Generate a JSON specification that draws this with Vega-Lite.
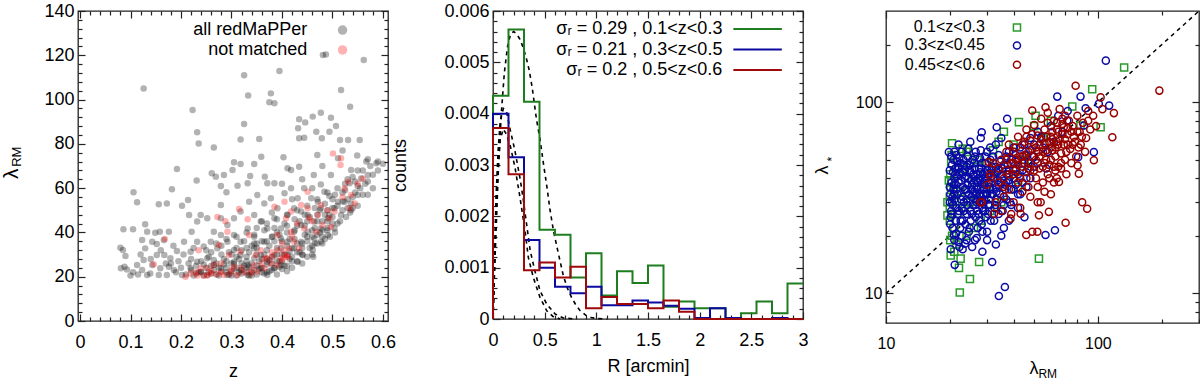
{
"$schema":"https://vega.github.io/schema/vega-lite/v6.json",
"padding":{"left":0,"top":1,"right":0,"bottom":0},
"config":{"font":"Liberation Sans","view":{"stroke":"#222222","strokeWidth":1.3},
"axis":{"domain":false,"grid":false,"labelFontSize":18,"titleFontSize":18,"labelColor":"black","titleColor":"black","titleFontWeight":"normal","tickColor":"#222222","tickWidth":1.2,"labelFlush":false,"labelOverlap":false}},
"resolve":{"scale":{"color":"independent","shape":"independent"}},
"datasets":{
"p1":[
{"z":0.126,"l":105,"g":"a"},{"z":0.223,"l":95.3,"g":"a"},{"z":0.232,"l":85.2,"g":"a"},{"z":0.235,"l":80.2,"g":"a"},{"z":0.265,"l":78.4,"g":"a"},{"z":0.261,"l":66.7,"g":"a"},{"z":0.192,"l":68.6,"g":"a"},{"z":0.182,"l":59.5,"g":"a"},{"z":0.106,"l":58.1,"g":"a"},{"z":0.113,"l":53.6,"g":"a"},{"z":0.156,"l":52.7,"g":"a"},{"z":0.172,"l":53.1,"g":"a"},{"z":0.202,"l":52.1,"g":"a"},{"z":0.214,"l":54.6,"g":"a"},{"z":0.231,"l":63.4,"g":"a"},{"z":0.279,"l":52.4,"g":"a"},{"z":0.325,"l":111,"g":"a"},{"z":0.333,"l":101.8,"g":"a"},{"z":0.325,"l":89,"g":"a"},{"z":0.318,"l":82,"g":"a"},{"z":0.355,"l":82.2,"g":"a"},{"z":0.378,"l":102.8,"g":"a"},{"z":0.375,"l":98.8,"g":"a"},{"z":0.385,"l":98.3,"g":"a"},{"z":0.395,"l":112.9,"g":"a"},{"z":0.481,"l":120.1,"g":"a"},{"z":0.487,"l":120.4,"g":"a"},{"z":0.562,"l":117.9,"g":"a"},{"z":0.517,"l":104.3,"g":"a"},{"z":0.535,"l":96.8,"g":"a"},{"z":0.477,"l":94.1,"g":"a"},{"z":0.497,"l":91.8,"g":"a"},{"z":0.461,"l":92.3,"g":"a"},{"z":0.434,"l":91.1,"g":"a"},{"z":0.446,"l":89.7,"g":"a"},{"z":0.432,"l":87,"g":"a"},{"z":0.507,"l":88.1,"g":"a"},{"z":0.468,"l":85.5,"g":"a"},{"z":0.515,"l":81.7,"g":"a"},{"z":0.531,"l":81.7,"g":"a"},{"z":0.554,"l":81.7,"g":"a"},{"z":0.434,"l":82.5,"g":"a"},{"z":0.444,"l":82.8,"g":"a"},{"z":0.479,"l":82.5,"g":"a"},{"z":0.494,"l":85.5,"g":"a"},{"z":0.511,"l":73.5,"g":"a"},{"z":0.549,"l":74.7,"g":"a"},{"z":0.567,"l":72,"g":"a"},{"z":0.587,"l":71.2,"g":"a"},{"z":0.403,"l":73.9,"g":"a"},{"z":0.359,"l":74.2,"g":"a"},{"z":0.345,"l":70.9,"g":"a"},{"z":0.318,"l":70.9,"g":"a"},{"z":0.305,"l":71.7,"g":"a"},{"z":0.302,"l":68.2,"g":"a"},{"z":0.285,"l":65.9,"g":"a"},{"z":0.269,"l":65.2,"g":"a"},{"z":0.279,"l":61,"g":"a"},{"z":0.29,"l":58.1,"g":"a"},{"z":0.312,"l":61.1,"g":"a"},{"z":0.332,"l":62.2,"g":"a"},{"z":0.337,"l":65.5,"g":"a"},{"z":0.366,"l":65.2,"g":"a"},{"z":0.371,"l":62.2,"g":"a"},{"z":0.385,"l":62.2,"g":"a"},{"z":0.411,"l":69,"g":"a"},{"z":0.434,"l":69.7,"g":"a"},{"z":0.418,"l":68.2,"g":"a"},{"z":0.463,"l":65.9,"g":"a"},{"z":0.477,"l":61.7,"g":"a"},{"z":0.497,"l":65.9,"g":"a"},{"z":0.537,"l":68.2,"g":"a"},{"z":0.534,"l":62.2,"g":"a"},{"z":0.55,"l":56.9,"g":"a"},{"z":0.557,"l":64.4,"g":"a"},{"z":0.57,"l":65.9,"g":"a"},{"z":0.537,"l":53.1,"g":"a"},{"z":0.511,"l":53.9,"g":"a"},{"z":0.494,"l":56.4,"g":"a"},
{"z":0.08,"l":33.1,"g":"a"},{"z":0.085,"l":32.1,"g":"a"},{"z":0.09,"l":29.4,"g":"a"},{"z":0.088,"l":24.5,"g":"a"},{"z":0.081,"l":23.8,"g":"a"},{"z":0.093,"l":23.3,"g":"a"},{"z":0.105,"l":22,"g":"a"},{"z":0.113,"l":25.3,"g":"a"},{"z":0.123,"l":23,"g":"a"},{"z":0.126,"l":27.5,"g":"a"},{"z":0.086,"l":41.4,"g":"a"},{"z":0.105,"l":41.4,"g":"a"},{"z":0.129,"l":43.7,"g":"a"},{"z":0.133,"l":40.3,"g":"a"},{"z":0.123,"l":36.6,"g":"a"},{"z":0.149,"l":39.9,"g":"a"},{"z":0.158,"l":40.3,"g":"a"},{"z":0.176,"l":40.3,"g":"a"},{"z":0.166,"l":36.6,"g":"a"},{"z":0.152,"l":34.8,"g":"a"},{"z":0.143,"l":35.8,"g":"a"},{"z":0.129,"l":32.8,"g":"a"},{"z":0.152,"l":29.8,"g":"a"},{"z":0.167,"l":29.8,"g":"a"},{"z":0.179,"l":28.3,"g":"a"},{"z":0.192,"l":31.6,"g":"a"},{"z":0.143,"l":25.3,"g":"a"},{"z":0.159,"l":23.8,"g":"a"},{"z":0.176,"l":24.5,"g":"a"},{"z":0.139,"l":21.5,"g":"a"},{"z":0.156,"l":20.8,"g":"a"},{"z":0.172,"l":20.8,"g":"a"},{"z":0.133,"l":20.8,"g":"a"},{"z":0.186,"l":23,"g":"a"},{"z":0.202,"l":20.8,"g":"a"},{"z":0.206,"l":35.8,"g":"a"},{"z":0.219,"l":31.3,"g":"a"},{"z":0.221,"l":40.3,"g":"a"},{"z":0.232,"l":44.9,"g":"a"},{"z":0.216,"l":47.9,"g":"a"},{"z":0.239,"l":47.9,"g":"a"},{"z":0.252,"l":46.4,"g":"a"},{"z":0.232,"l":35.8,"g":"a"},{"z":0.245,"l":33.6,"g":"a"},{"z":0.259,"l":35.8,"g":"a"},{"z":0.272,"l":32.8,"g":"a"},{"z":0.279,"l":38.8,"g":"a"},{"z":0.292,"l":35.8,"g":"a"},{"z":0.305,"l":38.8,"g":"a"},{"z":0.305,"l":32.1,"g":"a"},{"z":0.252,"l":28.3,"g":"a"},{"z":0.265,"l":25.3,"g":"a"},{"z":0.219,"l":23.8,"g":"a"},{"z":0.232,"l":26.8,"g":"a"},{"z":0.239,"l":22.3,"g":"a"},{"z":0.252,"l":20.8,"g":"a"},{"z":0.279,"l":23.8,"g":"a"},{"z":0.292,"l":20.8,"g":"a"},{"z":0.305,"l":26.8,"g":"a"},{"z":0.318,"l":29.8,"g":"a"},{"z":0.318,"l":23,"g":"a"},{"z":0.332,"l":25.3,"g":"a"},{"z":0.332,"l":20.8,"g":"a"},{"z":0.345,"l":28.3,"g":"a"},{"z":0.345,"l":32.8,"g":"a"},{"z":0.358,"l":23.8,"g":"a"},{"z":0.358,"l":29.8,"g":"a"},{"z":0.371,"l":26.8,"g":"a"},{"z":0.371,"l":20.8,"g":"a"},{"z":0.385,"l":23.8,"g":"a"},{"z":0.385,"l":29.8,"g":"a"},{"z":0.398,"l":25.3,"g":"a"},{"z":0.398,"l":32.8,"g":"a"},{"z":0.411,"l":29.8,"g":"a"},{"z":0.411,"l":35.8,"g":"a"},{"z":0.424,"l":32.8,"g":"a"},{"z":0.424,"l":40.3,"g":"a"},{"z":0.438,"l":35.8,"g":"a"},{"z":0.438,"l":43.4,"g":"a"},{"z":0.451,"l":40.3,"g":"a"},{"z":0.451,"l":47.9,"g":"a"},{"z":0.464,"l":44.9,"g":"a"},{"z":0.464,"l":37.3,"g":"a"},{"z":0.477,"l":41.8,"g":"a"},{"z":0.477,"l":35.8,"g":"a"},{"z":0.491,"l":38.8,"g":"a"},{"z":0.491,"l":46.4,"g":"a"},{"z":0.504,"l":50.9,"g":"a"},{"z":0.504,"l":41.8,"g":"a"},{"z":0.517,"l":47.9,"g":"a"},{"z":0.524,"l":53.9,"g":"a"},{"z":0.537,"l":50.1,"g":"a"},{"z":0.54,"l":51,"g":"a"},{"z":0.527,"l":47,"g":"a"},{"z":0.462,"l":29,"g":"a"},{"z":0.461,"l":32.1,"g":"a"},{"z":0.441,"l":29.8,"g":"a"},{"z":0.431,"l":26.8,"g":"a"},
{"z":0.318,"l":49.4,"g":"a"},{"z":0.335,"l":53.9,"g":"a"},{"z":0.351,"l":56.9,"g":"a"},{"z":0.365,"l":53.1,"g":"a"},{"z":0.378,"l":55.4,"g":"a"},{"z":0.391,"l":50.9,"g":"a"},{"z":0.405,"l":57.7,"g":"a"},{"z":0.418,"l":59.9,"g":"a"},{"z":0.431,"l":55.4,"g":"a"},{"z":0.444,"l":59.9,"g":"a"},{"z":0.458,"l":55.4,"g":"a"},{"z":0.471,"l":53.9,"g":"a"},{"z":0.484,"l":58.4,"g":"a"},{"z":0.345,"l":47.9,"g":"a"},{"z":0.358,"l":44.9,"g":"a"},{"z":0.371,"l":41.8,"g":"a"},{"z":0.385,"l":46.4,"g":"a"},{"z":0.398,"l":41.8,"g":"a"},{"z":0.411,"l":47.9,"g":"a"},{"z":0.424,"l":50.9,"g":"a"},{"z":0.438,"l":49.4,"g":"a"},{"z":0.332,"l":41.8,"g":"a"},{"z":0.305,"l":46.4,"g":"a"},{"z":0.292,"l":43.4,"g":"a"},{"z":0.279,"l":46.4,"g":"a"},{"z":0.265,"l":40.3,"g":"a"},{"z":0.318,"l":35.8,"g":"a"},{"z":0.345,"l":38.1,"g":"a"},{"z":0.365,"l":35.8,"g":"a"},{"z":0.381,"l":38.1,"g":"a"},{"z":0.398,"l":37.3,"g":"a"},{"z":0.477,"l":50.9,"g":"a"},{"z":0.494,"l":47.9,"g":"a"},
{"z":0.21,"l":21,"g":"a"},{"z":0.22,"l":23,"g":"a"},{"z":0.225,"l":20.5,"g":"a"},{"z":0.23,"l":25,"g":"a"},{"z":0.235,"l":22,"g":"a"},{"z":0.24,"l":27,"g":"a"},{"z":0.245,"l":20.5,"g":"a"},{"z":0.25,"l":24,"g":"a"},{"z":0.255,"l":29,"g":"a"},{"z":0.26,"l":21.5,"g":"a"},{"z":0.265,"l":23,"g":"a"},{"z":0.27,"l":26,"g":"a"},{"z":0.275,"l":20.5,"g":"a"},{"z":0.28,"l":22.5,"g":"a"},{"z":0.285,"l":28,"g":"a"},{"z":0.29,"l":24,"g":"a"},{"z":0.295,"l":21,"g":"a"},{"z":0.3,"l":30,"g":"a"},{"z":0.3,"l":22.5,"g":"a"},{"z":0.305,"l":26,"g":"a"},{"z":0.31,"l":20.5,"g":"a"},{"z":0.31,"l":24,"g":"a"},{"z":0.315,"l":28,"g":"a"},{"z":0.32,"l":21.5,"g":"a"},{"z":0.32,"l":32,"g":"a"},{"z":0.325,"l":25,"g":"a"},{"z":0.33,"l":22,"g":"a"},{"z":0.33,"l":29,"g":"a"},{"z":0.335,"l":20.5,"g":"a"},{"z":0.34,"l":26,"g":"a"},{"z":0.34,"l":34,"g":"a"},{"z":0.345,"l":23,"g":"a"},{"z":0.35,"l":21,"g":"a"},{"z":0.35,"l":30,"g":"a"},{"z":0.355,"l":27,"g":"a"},{"z":0.36,"l":24,"g":"a"},{"z":0.36,"l":36,"g":"a"},{"z":0.365,"l":21.5,"g":"a"},{"z":0.37,"l":32,"g":"a"},{"z":0.37,"l":25.5,"g":"a"},{"z":0.375,"l":22.5,"g":"a"},{"z":0.38,"l":29,"g":"a"},{"z":0.38,"l":38,"g":"a"},{"z":0.385,"l":24,"g":"a"},{"z":0.39,"l":21,"g":"a"},{"z":0.39,"l":33,"g":"a"},{"z":0.395,"l":27,"g":"a"},{"z":0.4,"l":23.5,"g":"a"},{"z":0.4,"l":36,"g":"a"},{"z":0.405,"l":30,"g":"a"},{"z":0.41,"l":25,"g":"a"},{"z":0.41,"l":40,"g":"a"},{"z":0.415,"l":28,"g":"a"},{"z":0.42,"l":33,"g":"a"},{"z":0.42,"l":24,"g":"a"},{"z":0.425,"l":37,"g":"a"},{"z":0.43,"l":27,"g":"a"},{"z":0.43,"l":43,"g":"a"},{"z":0.435,"l":31,"g":"a"},{"z":0.44,"l":35,"g":"a"},{"z":0.44,"l":26,"g":"a"},{"z":0.445,"l":39,"g":"a"},{"z":0.45,"l":29,"g":"a"},{"z":0.45,"l":45,"g":"a"},{"z":0.455,"l":33,"g":"a"},{"z":0.46,"l":38,"g":"a"},{"z":0.46,"l":30,"g":"a"},{"z":0.465,"l":42,"g":"a"},{"z":0.47,"l":35,"g":"a"},{"z":0.47,"l":48,"g":"a"},{"z":0.475,"l":40,"g":"a"},{"z":0.48,"l":35,"g":"a"},{"z":0.48,"l":45,"g":"a"},{"z":0.485,"l":37,"g":"a"},{"z":0.49,"l":50,"g":"a"},{"z":0.49,"l":42,"g":"a"},{"z":0.495,"l":38,"g":"a"},{"z":0.5,"l":47,"g":"a"},{"z":0.5,"l":55,"g":"a"},{"z":0.505,"l":40,"g":"a"},{"z":0.51,"l":52,"g":"a"},{"z":0.515,"l":45,"g":"a"},{"z":0.52,"l":58,"g":"a"},{"z":0.52,"l":50,"g":"a"},{"z":0.525,"l":62,"g":"a"},{"z":0.53,"l":55,"g":"a"},{"z":0.535,"l":49,"g":"a"},{"z":0.54,"l":65,"g":"a"},{"z":0.545,"l":58,"g":"a"},{"z":0.55,"l":52,"g":"a"},{"z":0.555,"l":60,"g":"a"},{"z":0.56,"l":68,"g":"a"},{"z":0.565,"l":62,"g":"a"},{"z":0.57,"l":57,"g":"a"},{"z":0.575,"l":70,"g":"a"},{"z":0.58,"l":66,"g":"a"},{"z":0.59,"l":72,"g":"a"},
{"z":0.24,"l":22,"g":"a"},{"z":0.26,"l":25,"g":"a"},{"z":0.27,"l":21,"g":"a"},{"z":0.28,"l":30,"g":"a"},{"z":0.29,"l":22,"g":"a"},{"z":0.3,"l":26,"g":"a"},{"z":0.31,"l":33,"g":"a"},{"z":0.32,"l":23,"g":"a"},{"z":0.33,"l":27,"g":"a"},{"z":0.34,"l":22,"g":"a"},{"z":0.35,"l":35,"g":"a"},{"z":0.36,"l":28,"g":"a"},{"z":0.37,"l":22,"g":"a"},{"z":0.38,"l":26,"g":"a"},{"z":0.39,"l":30,"g":"a"},{"z":0.4,"l":27,"g":"a"},{"z":0.41,"l":22.5,"g":"a"},{"z":0.42,"l":29,"g":"a"},{"z":0.43,"l":35,"g":"a"},{"z":0.44,"l":30,"g":"a"},{"z":0.45,"l":36,"g":"a"},{"z":0.46,"l":34,"g":"a"},{"z":0.47,"l":39,"g":"a"},{"z":0.48,"l":41,"g":"a"},{"z":0.49,"l":45,"g":"a"},{"z":0.5,"l":44,"g":"a"},{"z":0.25,"l":32,"g":"a"},{"z":0.27,"l":35,"g":"a"},{"z":0.29,"l":37,"g":"a"},{"z":0.31,"l":38,"g":"a"},{"z":0.33,"l":40,"g":"a"},{"z":0.35,"l":42,"g":"a"},{"z":0.37,"l":44,"g":"a"},{"z":0.39,"l":46,"g":"a"},{"z":0.41,"l":48,"g":"a"},{"z":0.43,"l":50,"g":"a"},{"z":0.45,"l":52,"g":"a"},{"z":0.47,"l":55,"g":"a"},{"z":0.49,"l":58,"g":"a"},{"z":0.51,"l":60,"g":"a"},{"z":0.53,"l":64,"g":"a"},{"z":0.55,"l":68,"g":"a"},{"z":0.57,"l":73,"g":"a"},{"z":0.22,"l":28,"g":"a"},{"z":0.2,"l":24,"g":"a"},{"z":0.19,"l":22,"g":"a"},{"z":0.18,"l":26,"g":"a"},{"z":0.335,"l":24.5,"g":"a"},{"z":0.355,"l":23.5,"g":"a"},{"z":0.375,"l":27.5,"g":"a"},{"z":0.395,"l":24.5,"g":"a"},{"z":0.415,"l":31.5,"g":"a"},{"z":0.305,"l":23.5,"g":"a"},{"z":0.285,"l":25.5,"g":"a"},{"z":0.265,"l":27.5,"g":"a"},{"z":0.325,"l":36,"g":"a"},{"z":0.345,"l":39,"g":"a"},{"z":0.365,"l":41,"g":"a"},{"z":0.385,"l":42,"g":"a"},{"z":0.405,"l":44,"g":"a"},{"z":0.425,"l":46,"g":"a"},{"z":0.445,"l":48,"g":"a"},{"z":0.465,"l":51,"g":"a"},{"z":0.485,"l":53,"g":"a"},{"z":0.505,"l":57,"g":"a"},{"z":0.525,"l":59,"g":"a"},{"z":0.545,"l":63,"g":"a"},
{"z":0.1,"l":20.5,"g":"a"},{"z":0.115,"l":21,"g":"a"},{"z":0.12,"l":30,"g":"a"},{"z":0.14,"l":28,"g":"a"},{"z":0.16,"l":32,"g":"a"},{"z":0.17,"l":26,"g":"a"},{"z":0.185,"l":34,"g":"a"},{"z":0.195,"l":27,"g":"a"},{"z":0.205,"l":30,"g":"a"},{"z":0.215,"l":26,"g":"a"},{"z":0.225,"l":33,"g":"a"},{"z":0.23,"l":21.5,"g":"a"},{"z":0.245,"l":25.5,"g":"a"},{"z":0.255,"l":22,"g":"a"},{"z":0.26,"l":31,"g":"a"},{"z":0.275,"l":24,"g":"a"},{"z":0.28,"l":34,"g":"a"},{"z":0.29,"l":27,"g":"a"},{"z":0.295,"l":31,"g":"a"},{"z":0.3,"l":20.5,"g":"a"},{"z":0.31,"l":29,"g":"a"},{"z":0.315,"l":22,"g":"a"},{"z":0.32,"l":26,"g":"a"},{"z":0.33,"l":24,"g":"a"},{"z":0.335,"l":31,"g":"a"},{"z":0.34,"l":20.5,"g":"a"},{"z":0.345,"l":35,"g":"a"},{"z":0.35,"l":25,"g":"a"},{"z":0.36,"l":22,"g":"a"},{"z":0.365,"l":30,"g":"a"},{"z":0.37,"l":28,"g":"a"},{"z":0.375,"l":34,"g":"a"},{"z":0.38,"l":23,"g":"a"},{"z":0.385,"l":36,"g":"a"},{"z":0.39,"l":27,"g":"a"},{"z":0.395,"l":39,"g":"a"},{"z":0.4,"l":30,"g":"a"},{"z":0.405,"l":25,"g":"a"},{"z":0.41,"l":34,"g":"a"},{"z":0.415,"l":37,"g":"a"},{"z":0.42,"l":27,"g":"a"},{"z":0.425,"l":41,"g":"a"},{"z":0.43,"l":31,"g":"a"},{"z":0.435,"l":45,"g":"a"},{"z":0.44,"l":33,"g":"a"},{"z":0.445,"l":43,"g":"a"},{"z":0.45,"l":38,"g":"a"},{"z":0.455,"l":47,"g":"a"},{"z":0.46,"l":41,"g":"a"},{"z":0.465,"l":35,"g":"a"},{"z":0.47,"l":45,"g":"a"},{"z":0.475,"l":50,"g":"a"},{"z":0.48,"l":38,"g":"a"},{"z":0.485,"l":48,"g":"a"},{"z":0.49,"l":41,"g":"a"},{"z":0.5,"l":51,"g":"a"},{"z":0.51,"l":44,"g":"a"},{"z":0.52,"l":54,"g":"a"},{"z":0.53,"l":51,"g":"a"},{"z":0.54,"l":56,"g":"a"},{"z":0.55,"l":61,"g":"a"},{"z":0.56,"l":57,"g":"a"},{"z":0.57,"l":63,"g":"a"},{"z":0.58,"l":60,"g":"a"},{"z":0.59,"l":68,"g":"a"},{"z":0.6,"l":71,"g":"a"},{"z":0.33,"l":33,"g":"a"},{"z":0.35,"l":33,"g":"a"},{"z":0.37,"l":36,"g":"a"},{"z":0.39,"l":40,"g":"a"},{"z":0.41,"l":43,"g":"a"},{"z":0.36,"l":45,"g":"a"},{"z":0.38,"l":49,"g":"a"},{"z":0.42,"l":55,"g":"a"},{"z":0.46,"l":60,"g":"a"},{"z":0.44,"l":64,"g":"a"},{"z":0.48,"l":70,"g":"a"},{"z":0.52,"l":77,"g":"a"},{"z":0.4,"l":62,"g":"a"},{"z":0.47,"l":75,"g":"a"},
{"z":0.146,"l":25.6,"g":"n"},{"z":0.168,"l":37,"g":"n"},{"z":0.235,"l":32,"g":"n"},{"z":0.272,"l":47,"g":"n"},{"z":0.288,"l":45,"g":"n"},{"z":0.292,"l":40.3,"g":"n"},{"z":0.275,"l":34.3,"g":"n"},{"z":0.295,"l":29.8,"g":"n"},{"z":0.315,"l":50.6,"g":"n"},{"z":0.332,"l":46,"g":"n"},{"z":0.335,"l":38.8,"g":"n"},{"z":0.348,"l":29.8,"g":"n"},{"z":0.365,"l":28.3,"g":"n"},{"z":0.385,"l":51.6,"g":"n"},{"z":0.391,"l":38.8,"g":"n"},{"z":0.405,"l":53.9,"g":"n"},{"z":0.408,"l":46.4,"g":"n"},{"z":0.418,"l":40.3,"g":"n"},{"z":0.418,"l":49.4,"g":"n"},{"z":0.424,"l":35.8,"g":"n"},{"z":0.438,"l":52.4,"g":"n"},{"z":0.451,"l":58.4,"g":"n"},{"z":0.454,"l":46.4,"g":"n"},{"z":0.468,"l":40.3,"g":"n"},{"z":0.471,"l":47.9,"g":"n"},{"z":0.477,"l":52.4,"g":"n"},{"z":0.48,"l":43.4,"g":"n"},{"z":0.494,"l":46.4,"g":"n"},{"z":0.501,"l":75.7,"g":"n"},{"z":0.517,"l":73.5,"g":"n"},{"z":0.516,"l":70.5,"g":"n"},{"z":0.531,"l":62.9,"g":"n"},{"z":0.524,"l":59.9,"g":"n"},{"z":0.537,"l":56.9,"g":"n"},{"z":0.534,"l":50.9,"g":"n"},{"z":0.504,"l":49.4,"g":"n"},{"z":0.497,"l":42.6,"g":"n"},{"z":0.544,"l":53.1,"g":"n"},{"z":0.56,"l":64.4,"g":"n"},{"z":0.451,"l":50.9,"g":"n"},{"z":0.444,"l":41.8,"g":"n"},{"z":0.434,"l":32.8,"g":"n"},{"z":0.411,"l":29,"g":"n"},{"z":0.405,"l":29.8,"g":"n"},{"z":0.401,"l":27.5,"g":"n"},{"z":0.391,"l":25.3,"g":"n"},{"z":0.378,"l":26,"g":"n"},{"z":0.365,"l":23.8,"g":"n"},{"z":0.351,"l":22.3,"g":"n"},{"z":0.338,"l":21.5,"g":"n"},{"z":0.325,"l":22,"g":"n"},{"z":0.312,"l":20.8,"g":"n"},{"z":0.298,"l":21.5,"g":"n"},{"z":0.285,"l":20.8,"g":"n"},{"z":0.272,"l":21.1,"g":"n"},{"z":0.259,"l":21.5,"g":"n"},{"z":0.245,"l":20.5,"g":"n"},{"z":0.232,"l":20.5,"g":"n"},{"z":0.219,"l":21.5,"g":"n"},{"z":0.209,"l":20,"g":"n"},{"z":0.239,"l":23.8,"g":"n"},{"z":0.252,"l":23.8,"g":"n"},{"z":0.265,"l":25.3,"g":"n"},{"z":0.279,"l":26,"g":"n"},{"z":0.305,"l":24.5,"g":"n"},{"z":0.345,"l":25.3,"g":"n"},{"z":0.371,"l":28.3,"g":"n"},{"z":0.381,"l":29,"g":"n"},{"z":0.398,"l":28.3,"g":"n"},{"z":0.41,"l":29,"g":"n"},{"z":0.403,"l":32,"g":"n"},{"z":0.414,"l":32.8,"g":"n"},{"z":0.391,"l":32,"g":"n"},{"z":0.358,"l":32,"g":"n"},{"z":0.318,"l":31.3,"g":"n"},{"z":0.252,"l":20.5,"g":"n"},
{"z":0.26,"l":22.5,"g":"n"},{"z":0.28,"l":22,"g":"n"},{"z":0.3,"l":23,"g":"n"},{"z":0.32,"l":24,"g":"n"},{"z":0.34,"l":23,"g":"n"},{"z":0.36,"l":26,"g":"n"},{"z":0.38,"l":31,"g":"n"},{"z":0.4,"l":35,"g":"n"},{"z":0.42,"l":38,"g":"n"},{"z":0.43,"l":44,"g":"n"},{"z":0.46,"l":45,"g":"n"},{"z":0.49,"l":50,"g":"n"},{"z":0.52,"l":56,"g":"n"},{"z":0.55,"l":62,"g":"n"},{"z":0.23,"l":22,"g":"n"}
],
"p1leg":[{"z":0.52,"l":131.4,"g":"a"},{"z":0.52,"l":122.4,"g":"n"}],
"p1legt":[{"z":0.45,"l":131.4,"t":"all redMaPPer"},{"z":0.45,"l":122.4,"t":"not matched"}],
"hist":[
{"R":0,"v":0,"s":"g","i":0},{"R":0,"v":0.00435,"s":"g","i":1},{"R":0.15,"v":0.00564,"s":"g","i":2},{"R":0.3,"v":0.00423,"s":"g","i":3},{"R":0.45,"v":0.00174,"s":"g","i":4},{"R":0.6,"v":0.00164,"s":"g","i":5},{"R":0.75,"v":0.00081,"s":"g","i":6},{"R":0.9,"v":0.00128,"s":"g","i":7},{"R":1.05,"v":0.00046,"s":"g","i":8},{"R":1.2,"v":0.00093,"s":"g","i":9},{"R":1.35,"v":0.0007,"s":"g","i":10},{"R":1.5,"v":0.00104,"s":"g","i":11},{"R":1.65,"v":0.00024,"s":"g","i":12},{"R":1.8,"v":0.00034,"s":"g","i":13},{"R":1.95,"v":0.00021,"s":"g","i":14},{"R":2.1,"v":0.00021,"s":"g","i":15},{"R":2.25,"v":0,"s":"g","i":16},{"R":2.4,"v":0.00011,"s":"g","i":17},{"R":2.55,"v":0.00034,"s":"g","i":18},{"R":2.7,"v":0.00011,"s":"g","i":19},{"R":2.85,"v":0.00069,"s":"g","i":20},{"R":3,"v":0.00069,"s":"g","i":21},
{"R":0,"v":0,"s":"b","i":0},{"R":0,"v":0.004,"s":"b","i":1},{"R":0.15,"v":0.00315,"s":"b","i":2},{"R":0.3,"v":0.00154,"s":"b","i":3},{"R":0.45,"v":0.001,"s":"b","i":4},{"R":0.6,"v":0.00063,"s":"b","i":5},{"R":0.75,"v":0.0005,"s":"b","i":6},{"R":0.9,"v":0.00063,"s":"b","i":7},{"R":1.05,"v":0.00027,"s":"b","i":8},{"R":1.2,"v":0.00027,"s":"b","i":9},{"R":1.35,"v":0.00036,"s":"b","i":10},{"R":1.5,"v":0.00032,"s":"b","i":11},{"R":1.65,"v":0.00026,"s":"b","i":12},{"R":1.8,"v":0.0002,"s":"b","i":13},{"R":1.95,"v":0.00002,"s":"b","i":14},{"R":2.1,"v":0.00021,"s":"b","i":15},{"R":2.25,"v":0.00002,"s":"b","i":16},{"R":2.4,"v":0,"s":"b","i":17},{"R":2.7,"v":0.00002,"s":"b","i":18},{"R":2.85,"v":0,"s":"b","i":19},{"R":3,"v":0,"s":"b","i":20},
{"R":0,"v":0,"s":"r","i":0},{"R":0,"v":0.00372,"s":"r","i":1},{"R":0.15,"v":0.00282,"s":"r","i":2},{"R":0.3,"v":0.00095,"s":"r","i":3},{"R":0.45,"v":0.0011,"s":"r","i":4},{"R":0.6,"v":0.00081,"s":"r","i":5},{"R":0.75,"v":0.00102,"s":"r","i":6},{"R":0.9,"v":0.00021,"s":"r","i":7},{"R":1.05,"v":0.00043,"s":"r","i":8},{"R":1.2,"v":0.00029,"s":"r","i":9},{"R":1.35,"v":0.00029,"s":"r","i":10},{"R":1.5,"v":0.00021,"s":"r","i":11},{"R":1.65,"v":0.00036,"s":"r","i":12},{"R":1.8,"v":0.00014,"s":"r","i":13},{"R":1.95,"v":0,"s":"r","i":14},{"R":3,"v":0,"s":"r","i":15}
],
"fits":[
{"R":0,"v":0,"c":"A","i":0},{"R":0.02,"v":0.0012,"c":"A","i":1},{"R":0.05,"v":0.0028,"c":"A","i":2},{"R":0.08,"v":0.004,"c":"A","i":3},{"R":0.11,"v":0.0048,"c":"A","i":4},{"R":0.14,"v":0.0053,"c":"A","i":5},{"R":0.17,"v":0.00555,"c":"A","i":6},{"R":0.2,"v":0.0056,"c":"A","i":7},{"R":0.23,"v":0.00555,"c":"A","i":8},{"R":0.26,"v":0.00545,"c":"A","i":9},{"R":0.29,"v":0.0053,"c":"A","i":10},{"R":0.32,"v":0.0051,"c":"A","i":11},{"R":0.35,"v":0.00485,"c":"A","i":12},{"R":0.38,"v":0.0045,"c":"A","i":13},{"R":0.42,"v":0.0039,"c":"A","i":14},{"R":0.455,"v":0.0035,"c":"A","i":15},{"R":0.49,"v":0.003,"c":"A","i":16},{"R":0.52,"v":0.0026,"c":"A","i":17},{"R":0.55,"v":0.00215,"c":"A","i":18},{"R":0.585,"v":0.00172,"c":"A","i":19},{"R":0.63,"v":0.0013,"c":"A","i":20},{"R":0.68,"v":0.00085,"c":"A","i":21},{"R":0.72,"v":0.0006,"c":"A","i":22},{"R":0.76,"v":0.00042,"c":"A","i":23},{"R":0.8,"v":0.00028,"c":"A","i":24},{"R":0.84,"v":0.00017,"c":"A","i":25},{"R":0.9,"v":0.00007,"c":"A","i":26},{"R":0.95,"v":0.00003,"c":"A","i":27},{"R":1,"v":0.00001,"c":"A","i":28},{"R":1.1,"v":0,"c":"A","i":29},
{"R":0,"v":0,"c":"B","i":0},{"R":0.015,"v":0.0012,"c":"B","i":1},{"R":0.03,"v":0.0024,"c":"B","i":2},{"R":0.05,"v":0.0033,"c":"B","i":3},{"R":0.07,"v":0.00385,"c":"B","i":4},{"R":0.1,"v":0.0041,"c":"B","i":5},{"R":0.13,"v":0.00405,"c":"B","i":6},{"R":0.165,"v":0.0037,"c":"B","i":7},{"R":0.21,"v":0.0033,"c":"B","i":8},{"R":0.26,"v":0.00276,"c":"B","i":9},{"R":0.29,"v":0.00237,"c":"B","i":10},{"R":0.325,"v":0.00185,"c":"B","i":11},{"R":0.36,"v":0.00133,"c":"B","i":12},{"R":0.405,"v":0.00094,"c":"B","i":13},{"R":0.455,"v":0.00055,"c":"B","i":14},{"R":0.52,"v":0.00029,"c":"B","i":15},{"R":0.6,"v":0.0001,"c":"B","i":16},{"R":0.68,"v":0.00002,"c":"B","i":17},{"R":0.8,"v":0,"c":"B","i":18},
{"R":0,"v":0,"c":"C","i":0},{"R":0.015,"v":0.0011,"c":"C","i":1},{"R":0.03,"v":0.0022,"c":"C","i":2},{"R":0.05,"v":0.003,"c":"C","i":3},{"R":0.07,"v":0.0035,"c":"C","i":4},{"R":0.1,"v":0.0037,"c":"C","i":5},{"R":0.13,"v":0.0036,"c":"C","i":6},{"R":0.17,"v":0.00335,"c":"C","i":7},{"R":0.213,"v":0.00295,"c":"C","i":8},{"R":0.261,"v":0.00237,"c":"C","i":9},{"R":0.31,"v":0.00172,"c":"C","i":10},{"R":0.342,"v":0.0012,"c":"C","i":11},{"R":0.39,"v":0.00081,"c":"C","i":12},{"R":0.455,"v":0.00042,"c":"C","i":13},{"R":0.52,"v":0.00016,"c":"C","i":14},{"R":0.58,"v":0.00005,"c":"C","i":15},{"R":0.65,"v":0,"c":"C","i":16}
],
"p2leg":[{"x1":2.326,"x2":2.795,"v":0.00565,"s":"g","t":"σᵣ = 0.29 , 0.1<z<0.3"},{"x1":2.326,"x2":2.795,"v":0.00525,"s":"b","t":"σᵣ = 0.21 , 0.3<z<0.5"},{"x1":2.326,"x2":2.795,"v":0.00485,"s":"r","t":"σᵣ = 0.2 , 0.5<z<0.6"}],
"p3":[
{"x":20,"y":28,"g":"g"},{"x":20,"y":32,"g":"g"},{"x":20.2,"y":36,"g":"g"},{"x":20.1,"y":42,"g":"g"},{"x":20.3,"y":48,"g":"g"},{"x":20,"y":24,"g":"g"},{"x":20.5,"y":20,"g":"g"},{"x":21,"y":22,"g":"g"},{"x":21.5,"y":18,"g":"g"},{"x":22,"y":26,"g":"g"},{"x":22.5,"y":34,"g":"g"},{"x":23,"y":45,"g":"g"},{"x":24,"y":55,"g":"g"},{"x":25,"y":30,"g":"g"},{"x":26,"y":38,"g":"g"},{"x":27,"y":50,"g":"g"},{"x":28,"y":42,"g":"g"},{"x":30,"y":48,"g":"g"},{"x":32,"y":56,"g":"g"},{"x":34,"y":62,"g":"g"},{"x":36,"y":70,"g":"g"},{"x":40,"y":60,"g":"g"},{"x":45,"y":50,"g":"g"},{"x":50,"y":75,"g":"g"},{"x":55,"y":65,"g":"g"},{"x":60,"y":80,"g":"g"},{"x":26,"y":22,"g":"g"},{"x":24,"y":20,"g":"g"},{"x":29,"y":33,"g":"g"},{"x":31,"y":27,"g":"g"},{"x":20.1,"y":19,"g":"g"},{"x":21,"y":16.5,"g":"g"},{"x":23,"y":57,"g":"g"},{"x":38,"y":42,"g":"g"},{"x":42,"y":36,"g":"g"},
{"x":20.3,"y":38,"g":"g"},{"x":20.6,"y":26,"g":"g"},{"x":21.2,"y":30,"g":"g"},{"x":22,"y":42,"g":"g"},{"x":23.5,"y":28,"g":"g"},{"x":25,"y":48,"g":"g"},{"x":26.5,"y":31,"g":"g"},{"x":28,"y":24,"g":"g"},{"x":30,"y":36,"g":"g"},{"x":33,"y":44,"g":"g"},{"x":35,"y":30,"g":"g"},{"x":20.4,"y":53,"g":"g"},{"x":21,"y":34,"g":"g"},
{"x":133,"y":152,"g":"g"},{"x":94,"y":117,"g":"g"},{"x":20.5,"y":61,"g":"g"},{"x":24.2,"y":57,"g":"g"},{"x":20.2,"y":15.8,"g":"g"},{"x":22.5,"y":15.2,"g":"g"},{"x":22.1,"y":13.6,"g":"g"},{"x":24.9,"y":11.9,"g":"g"},{"x":22.3,"y":10.1,"g":"g"},{"x":27.5,"y":14.6,"g":"g"},{"x":52.7,"y":15.2,"g":"g"},{"x":103,"y":74,"g":"g"},{"x":75.7,"y":95,"g":"g"},{"x":82.8,"y":75.5,"g":"g"},{"x":50.8,"y":85,"g":"g"},{"x":19.8,"y":39,"g":"g"},{"x":19.5,"y":30,"g":"g"},{"x":19.5,"y":25.6,"g":"g"},{"x":42.4,"y":78.7,"g":"g"},
{"x":109,"y":165,"g":"b"},{"x":34.1,"y":9.7,"g":"b"},{"x":36.4,"y":10.8,"g":"b"},{"x":64.3,"y":107,"g":"b"},{"x":82.8,"y":107,"g":"b"},{"x":101,"y":98,"g":"b"},{"x":113,"y":96,"g":"b"},{"x":87.5,"y":93,"g":"b"},{"x":95.7,"y":54.8,"g":"b"},{"x":80.7,"y":51.6,"g":"b"},{"x":37.3,"y":81.9,"g":"b"},{"x":33.3,"y":74,"g":"b"},{"x":28.3,"y":69.7,"g":"b"},{"x":19.8,"y":54.8,"g":"b"},{"x":20.9,"y":20.2,"g":"b"},{"x":21.1,"y":14.1,"g":"b"},{"x":28.5,"y":16.5,"g":"b"},{"x":31.7,"y":14.6,"g":"b"},{"x":56.6,"y":20.2,"g":"b"},{"x":62.7,"y":21.4,"g":"b"},{"x":85.9,"y":75.5,"g":"b"},{"x":71.7,"y":80.2,"g":"b"},
{"x":20.2,"y":25,"g":"b"},{"x":20.5,"y":30,"g":"b"},{"x":20.8,"y":35,"g":"b"},{"x":21,"y":40,"g":"b"},{"x":21.2,"y":45,"g":"b"},{"x":20.3,"y":52,"g":"b"},{"x":20.6,"y":22,"g":"b"},{"x":21.5,"y":28,"g":"b"},{"x":21.8,"y":33,"g":"b"},{"x":22,"y":38,"g":"b"},{"x":22.3,"y":43,"g":"b"},{"x":22.5,"y":48,"g":"b"},{"x":22.8,"y":20,"g":"b"},{"x":23,"y":24,"g":"b"},{"x":23.3,"y":30,"g":"b"},{"x":23.5,"y":35,"g":"b"},{"x":23.8,"y":41,"g":"b"},{"x":24,"y":46,"g":"b"},{"x":24.3,"y":52,"g":"b"},{"x":24.5,"y":57,"g":"b"},{"x":24.8,"y":22,"g":"b"},{"x":25,"y":27,"g":"b"},{"x":25.3,"y":32,"g":"b"},{"x":25.5,"y":37,"g":"b"},{"x":25.8,"y":42,"g":"b"},{"x":26,"y":48,"g":"b"},{"x":26.3,"y":19,"g":"b"},{"x":26.5,"y":25,"g":"b"},{"x":26.8,"y":30,"g":"b"},{"x":27,"y":35,"g":"b"},{"x":27.3,"y":40,"g":"b"},{"x":27.5,"y":45,"g":"b"},{"x":27.8,"y":51,"g":"b"},{"x":28,"y":56,"g":"b"},{"x":28.3,"y":23,"g":"b"},{"x":28.5,"y":28,"g":"b"},{"x":28.8,"y":33,"g":"b"},{"x":29,"y":38,"g":"b"},{"x":29.3,"y":43,"g":"b"},{"x":29.5,"y":48,"g":"b"},{"x":30,"y":21,"g":"b"},{"x":30.3,"y":26,"g":"b"},{"x":30.6,"y":31,"g":"b"},{"x":31,"y":36,"g":"b"},{"x":31.3,"y":41,"g":"b"},{"x":31.6,"y":46,"g":"b"},{"x":32,"y":52,"g":"b"},{"x":32.4,"y":24,"g":"b"},{"x":32.8,"y":29,"g":"b"},{"x":33.2,"y":34,"g":"b"},{"x":33.6,"y":39,"g":"b"},{"x":34,"y":44,"g":"b"},{"x":34.5,"y":49,"g":"b"},{"x":35,"y":20,"g":"b"},{"x":35.5,"y":27,"g":"b"},{"x":36,"y":32,"g":"b"},{"x":36.5,"y":37,"g":"b"},{"x":37,"y":42,"g":"b"},{"x":37.5,"y":47,"g":"b"},{"x":38,"y":55,"g":"b"},{"x":38.5,"y":30,"g":"b"},{"x":39,"y":35,"g":"b"},{"x":40,"y":40,"g":"b"},{"x":41,"y":45,"g":"b"},{"x":42,"y":50,"g":"b"},{"x":43,"y":33,"g":"b"},{"x":44,"y":38,"g":"b"},{"x":45,"y":60,"g":"b"},{"x":46,"y":43,"g":"b"},{"x":47,"y":48,"g":"b"},{"x":48,"y":65,"g":"b"},{"x":50,"y":52,"g":"b"},{"x":52,"y":70,"g":"b"},{"x":55,"y":58,"g":"b"},{"x":57,"y":45,"g":"b"},{"x":60,"y":75,"g":"b"},{"x":62,"y":62,"g":"b"},{"x":65,"y":85,"g":"b"},{"x":68,"y":70,"g":"b"},{"x":72,"y":90,"g":"b"},{"x":20.1,"y":33,"g":"b"},{"x":20.4,"y":38,"g":"b"},{"x":20.7,"y":43,"g":"b"},{"x":21.3,"y":24,"g":"b"},{"x":21.6,"y":49,"g":"b"},{"x":22.1,"y":27,"g":"b"},{"x":22.6,"y":31,"g":"b"},{"x":23.1,"y":36,"g":"b"},{"x":23.6,"y":40,"g":"b"},{"x":24.1,"y":26,"g":"b"},{"x":24.6,"y":33,"g":"b"},{"x":25.1,"y":43,"g":"b"},{"x":25.6,"y":50,"g":"b"},{"x":26.1,"y":34,"g":"b"},{"x":26.6,"y":39,"g":"b"},{"x":27.1,"y":22,"g":"b"},{"x":27.6,"y":30,"g":"b"},{"x":28.1,"y":36,"g":"b"},{"x":28.6,"y":42,"g":"b"},{"x":29.1,"y":31,"g":"b"},{"x":29.6,"y":25,"g":"b"},{"x":30.1,"y":44,"g":"b"},{"x":31.1,"y":50,"g":"b"},{"x":22,"y":18.5,"g":"b"},{"x":23,"y":17,"g":"b"},{"x":24,"y":19,"g":"b"},{"x":21,"y":55,"g":"b"},{"x":22,"y":60,"g":"b"},{"x":25,"y":62,"g":"b"},{"x":30,"y":55,"g":"b"},{"x":33,"y":60,"g":"b"},{"x":28,"y":65,"g":"b"},{"x":35,"y":65,"g":"b"},{"x":40,"y":58,"g":"b"},{"x":30,"y":19,"g":"b"},{"x":33,"y":18,"g":"b"},{"x":36,"y":22,"g":"b"},{"x":38,"y":24,"g":"b"},{"x":42,"y":28,"g":"b"},{"x":45,"y":25,"g":"b"},{"x":20.2,"y":17,"g":"b"},{"x":21,"y":19,"g":"b"},
{"x":20.3,"y":27,"g":"b"},{"x":20.6,"y":32,"g":"b"},{"x":20.9,"y":37,"g":"b"},{"x":21.2,"y":42,"g":"b"},{"x":21.5,"y":35,"g":"b"},{"x":21.8,"y":26,"g":"b"},{"x":22.1,"y":45,"g":"b"},{"x":22.4,"y":22,"g":"b"},{"x":22.7,"y":39,"g":"b"},{"x":23,"y":32,"g":"b"},{"x":23.3,"y":27,"g":"b"},{"x":23.6,"y":44,"g":"b"},{"x":23.9,"y":35,"g":"b"},{"x":24.2,"y":29,"g":"b"},{"x":24.5,"y":40,"g":"b"},{"x":24.8,"y":47,"g":"b"},{"x":25.1,"y":24,"g":"b"},{"x":25.4,"y":35,"g":"b"},{"x":25.7,"y":29,"g":"b"},{"x":26,"y":41,"g":"b"},{"x":26.3,"y":52,"g":"b"},{"x":26.6,"y":33,"g":"b"},{"x":26.9,"y":27,"g":"b"},{"x":27.2,"y":38,"g":"b"},{"x":27.5,"y":24,"g":"b"},{"x":27.8,"y":43,"g":"b"},{"x":28.1,"y":32,"g":"b"},{"x":28.4,"y":48,"g":"b"},{"x":28.7,"y":27,"g":"b"},{"x":29,"y":35,"g":"b"},{"x":29.5,"y":40,"g":"b"},{"x":30,"y":33,"g":"b"},{"x":30.5,"y":38,"g":"b"},{"x":31,"y":29,"g":"b"},{"x":31.5,"y":44,"g":"b"},{"x":32,"y":35,"g":"b"},{"x":32.5,"y":40,"g":"b"},{"x":33,"y":46,"g":"b"},{"x":33.5,"y":31,"g":"b"},{"x":34,"y":37,"g":"b"},{"x":35,"y":42,"g":"b"},{"x":36,"y":47,"g":"b"},{"x":37,"y":38,"g":"b"},{"x":38,"y":44,"g":"b"},{"x":39,"y":50,"g":"b"},{"x":40,"y":35,"g":"b"},{"x":41,"y":53,"g":"b"},{"x":42,"y":42,"g":"b"},{"x":43,"y":58,"g":"b"},{"x":44,"y":48,"g":"b"},{"x":46,"y":53,"g":"b"},{"x":48,"y":40,"g":"b"},{"x":50,"y":60,"g":"b"},{"x":52,"y":48,"g":"b"},{"x":54,"y":66,"g":"b"},{"x":58,"y":55,"g":"b"},{"x":20,"y":44,"g":"b"},{"x":20,"y":36,"g":"b"},{"x":20,"y":30,"g":"b"},{"x":21,"y":31,"g":"b"},{"x":21.4,"y":20.5,"g":"b"},{"x":22.2,"y":17.5,"g":"b"},{"x":23.6,"y":18.2,"g":"b"},{"x":25.5,"y":17.5,"g":"b"},{"x":26.8,"y":19.5,"g":"b"},
{"x":20.1,"y":23,"g":"b"},{"x":20.4,"y":26,"g":"b"},{"x":20.7,"y":29,"g":"b"},{"x":21,"y":33,"g":"b"},{"x":21.3,"y":37,"g":"b"},{"x":21.6,"y":41,"g":"b"},{"x":21.9,"y":46,"g":"b"},{"x":22.2,"y":51,"g":"b"},{"x":22.5,"y":24,"g":"b"},{"x":22.8,"y":28,"g":"b"},{"x":23.1,"y":43,"g":"b"},{"x":23.4,"y":47,"g":"b"},{"x":23.7,"y":23,"g":"b"},{"x":24,"y":31,"g":"b"},{"x":24.3,"y":37,"g":"b"},{"x":24.6,"y":21,"g":"b"},{"x":24.9,"y":44,"g":"b"},{"x":25.2,"y":39,"g":"b"},{"x":25.5,"y":26,"g":"b"},{"x":25.8,"y":33,"g":"b"},{"x":26.1,"y":45,"g":"b"},{"x":26.4,"y":29,"g":"b"},{"x":26.7,"y":36,"g":"b"},{"x":27,"y":42,"g":"b"},{"x":27.3,"y":26,"g":"b"},{"x":27.6,"y":33,"g":"b"},{"x":27.9,"y":39,"g":"b"},{"x":28.2,"y":45,"g":"b"},{"x":28.5,"y":21,"g":"b"},{"x":28.8,"y":30,"g":"b"},{"x":29.1,"y":37,"g":"b"},{"x":29.4,"y":27,"g":"b"},{"x":29.7,"y":33,"g":"b"},{"x":30,"y":42,"g":"b"},{"x":30.4,"y":29,"g":"b"},{"x":30.8,"y":35,"g":"b"},{"x":31.2,"y":24,"g":"b"},{"x":31.6,"y":33,"g":"b"},{"x":32,"y":40,"g":"b"},{"x":32.5,"y":28,"g":"b"},{"x":33,"y":36,"g":"b"},{"x":33.5,"y":43,"g":"b"},{"x":34,"y":26,"g":"b"},{"x":34.5,"y":33,"g":"b"},{"x":35,"y":38,"g":"b"},{"x":35.5,"y":45,"g":"b"},{"x":36,"y":29,"g":"b"},{"x":36.5,"y":35,"g":"b"},{"x":37,"y":31,"g":"b"},{"x":38,"y":39,"g":"b"},{"x":39,"y":29,"g":"b"},{"x":40,"y":45,"g":"b"},{"x":41,"y":37,"g":"b"},{"x":42,"y":33,"g":"b"},{"x":20.5,"y":47,"g":"b"},{"x":20.8,"y":50,"g":"b"},{"x":21.5,"y":53,"g":"b"},{"x":22.7,"y":55,"g":"b"},{"x":23.2,"y":50,"g":"b"},{"x":26.5,"y":55,"g":"b"},{"x":29.5,"y":52,"g":"b"},{"x":31,"y":58,"g":"b"},{"x":34,"y":53,"g":"b"},{"x":37,"y":52,"g":"b"},{"x":44,"y":44,"g":"b"},{"x":46,"y":36,"g":"b"},{"x":48,"y":56,"g":"b"},{"x":50,"y":46,"g":"b"},
{"x":195,"y":115,"g":"r"},{"x":78.5,"y":122,"g":"r"},{"x":103,"y":106,"g":"r"},{"x":119,"y":87.7,"g":"r"},{"x":117,"y":65.6,"g":"r"},{"x":95.7,"y":49.7,"g":"r"},{"x":84.3,"y":30,"g":"r"},{"x":89,"y":27.7,"g":"r"},{"x":70.4,"y":23.4,"g":"r"},{"x":45.9,"y":20.2,"g":"r"},{"x":49,"y":21,"g":"r"},{"x":51.8,"y":21,"g":"r"},{"x":28.3,"y":30,"g":"r"},{"x":32.3,"y":26.1,"g":"r"},{"x":56.6,"y":94.2,"g":"r"},{"x":49,"y":90.5,"g":"r"},{"x":65.5,"y":38.3,"g":"r"},{"x":80.2,"y":46.7,"g":"r"},{"x":81.3,"y":42.3,"g":"r"},{"x":53.7,"y":30,"g":"r"},{"x":58.7,"y":26.7,"g":"r"},{"x":52.7,"y":25.6,"g":"r"},{"x":43.2,"y":26.1,"g":"r"},{"x":38.7,"y":24.6,"g":"r"},{"x":30.6,"y":48.6,"g":"r"},{"x":31.2,"y":40.6,"g":"r"},
{"x":34,"y":45,"g":"r"},{"x":35,"y":50,"g":"r"},{"x":36,"y":40,"g":"r"},{"x":37,"y":55,"g":"r"},{"x":38,"y":35,"g":"r"},{"x":39,"y":48,"g":"r"},{"x":40,"y":42,"g":"r"},{"x":41,"y":58,"g":"r"},{"x":42,"y":38,"g":"r"},{"x":43,"y":52,"g":"r"},{"x":44,"y":46,"g":"r"},{"x":45,"y":62,"g":"r"},{"x":46,"y":40,"g":"r"},{"x":47,"y":55,"g":"r"},{"x":48,"y":48,"g":"r"},{"x":49,"y":68,"g":"r"},{"x":50,"y":44,"g":"r"},{"x":51,"y":58,"g":"r"},{"x":52,"y":36,"g":"r"},{"x":53,"y":52,"g":"r"},{"x":54,"y":64,"g":"r"},{"x":55,"y":46,"g":"r"},{"x":56,"y":72,"g":"r"},{"x":57,"y":56,"g":"r"},{"x":58,"y":42,"g":"r"},{"x":59,"y":62,"g":"r"},{"x":60,"y":50,"g":"r"},{"x":61,"y":70,"g":"r"},{"x":62,"y":38,"g":"r"},{"x":63,"y":58,"g":"r"},{"x":64,"y":78,"g":"r"},{"x":65,"y":46,"g":"r"},{"x":66,"y":64,"g":"r"},{"x":67,"y":54,"g":"r"},{"x":68,"y":82,"g":"r"},{"x":69,"y":60,"g":"r"},{"x":70,"y":50,"g":"r"},{"x":72,"y":68,"g":"r"},{"x":74,"y":57,"g":"r"},{"x":76,"y":75,"g":"r"},{"x":78,"y":62,"g":"r"},{"x":80,"y":85,"g":"r"},{"x":82,"y":70,"g":"r"},{"x":85,"y":78,"g":"r"},{"x":88,"y":65,"g":"r"},{"x":90,"y":80,"g":"r"},{"x":92,"y":72,"g":"r"},{"x":95,"y":85,"g":"r"},{"x":36,"y":32,"g":"r"},{"x":40,"y":30,"g":"r"},{"x":44,"y":34,"g":"r"},{"x":48,"y":32,"g":"r"},{"x":52,"y":30,"g":"r"},{"x":56,"y":34,"g":"r"},{"x":60,"y":33,"g":"r"},{"x":64,"y":40,"g":"r"},{"x":38,"y":60,"g":"r"},{"x":42,"y":66,"g":"r"},{"x":46,"y":72,"g":"r"},{"x":50,"y":76,"g":"r"},{"x":54,"y":82,"g":"r"},{"x":58,"y":88,"g":"r"},{"x":62,"y":80,"g":"r"},{"x":66,"y":92,"g":"r"},{"x":34,"y":38,"g":"r"},{"x":37,"y":44,"g":"r"},{"x":41,"y":50,"g":"r"},{"x":45,"y":53,"g":"r"},{"x":49,"y":57,"g":"r"},{"x":53,"y":60,"g":"r"},{"x":57,"y":66,"g":"r"},{"x":61,"y":64,"g":"r"},{"x":65,"y":70,"g":"r"},{"x":69,"y":74,"g":"r"},{"x":73,"y":80,"g":"r"},{"x":77,"y":66,"g":"r"},{"x":81,"y":58,"g":"r"},{"x":33,"y":30,"g":"r"},{"x":35,"y":27,"g":"r"},{"x":39,"y":26,"g":"r"},{"x":43,"y":28,"g":"r"},{"x":47,"y":45,"g":"r"},{"x":51,"y":50,"g":"r"},{"x":55,"y":55,"g":"r"},{"x":59,"y":47,"g":"r"},{"x":63,"y":52,"g":"r"},{"x":67,"y":45,"g":"r"},{"x":71,"y":42,"g":"r"},{"x":75,"y":48,"g":"r"},{"x":79,"y":52,"g":"r"},{"x":83,"y":60,"g":"r"},{"x":87,"y":55,"g":"r"},{"x":30,"y":37,"g":"r"},{"x":31,"y":42,"g":"r"},{"x":32,"y":48,"g":"r"},{"x":28,"y":30,"g":"r"},
{"x":37,"y":50,"g":"r"},{"x":41,"y":44,"g":"r"},{"x":45,"y":48,"g":"r"},{"x":49,"y":52,"g":"r"},{"x":53,"y":45,"g":"r"},{"x":57,"y":50,"g":"r"},{"x":61,"y":56,"g":"r"},{"x":65,"y":60,"g":"r"},{"x":70,"y":64,"g":"r"},{"x":75,"y":70,"g":"r"},{"x":40,"y":55,"g":"r"},{"x":44,"y":60,"g":"r"},{"x":48,"y":63,"g":"r"},{"x":52,"y":67,"g":"r"},{"x":56,"y":61,"g":"r"},{"x":60,"y":66,"g":"r"},{"x":64,"y":72,"g":"r"},{"x":68,"y":77,"g":"r"},{"x":72,"y":73,"g":"r"},{"x":43,"y":40,"g":"r"},{"x":47,"y":36,"g":"r"},{"x":51,"y":40,"g":"r"},{"x":55,"y":38,"g":"r"},{"x":59,"y":40,"g":"r"},{"x":63,"y":44,"g":"r"},{"x":67,"y":48,"g":"r"},{"x":71,"y":55,"g":"r"},{"x":76,"y":60,"g":"r"},{"x":80,"y":70,"g":"r"},{"x":84,"y":66,"g":"r"},{"x":90,"y":90,"g":"r"},{"x":98,"y":75,"g":"r"},{"x":105,"y":92,"g":"r"},
{"x":36,"y":36,"g":"r"},{"x":40,"y":48,"g":"r"},{"x":44,"y":52,"g":"r"},{"x":48,"y":44,"g":"r"},{"x":52,"y":55,"g":"r"},{"x":56,"y":48,"g":"r"},{"x":60,"y":58,"g":"r"},{"x":64,"y":62,"g":"r"},{"x":68,"y":68,"g":"r"},{"x":72,"y":60,"g":"r"},{"x":46,"y":66,"g":"r"},{"x":58,"y":78,"g":"r"},{"x":70,"y":85,"g":"r"},{"x":62,"y":46,"g":"r"},{"x":38,"y":42,"g":"r"},{"x":42,"y":47,"g":"r"}
],
"p3leg":[{"x":41.5,"y":246,"g":"g","tx":29.3,"t":"0.1<z<0.3"},{"x":41.5,"y":198,"g":"b","tx":29.3,"t":"0.3<z<0.45"},{"x":41.5,"y":157,"g":"r","tx":29.3,"t":"0.45<z<0.6"}],
"diag":[{"x":10,"y":10},{"x":300,"y":300}]
},
"bounds":"flush",
"spacing":105,
"hconcat":[
{"width":310,"height":310,
"resolve":{"axis":{"x":"independent","y":"independent"}},
"layer":[
{"data":{"name":"p1"},"mark":{"type":"circle","size":42,"opacity":0.3},
"encoding":{
"x":{"field":"z","type":"quantitative","scale":{"domain":[-0.004,0.61],"nice":false,"zero":false},
"axis":{"values":[0,0.02,0.04,0.06,0.08,0.1,0.12,0.14,0.16,0.18,0.2,0.22,0.24,0.26,0.28,0.3,0.32,0.34,0.36,0.38,0.4,0.42,0.44,0.46,0.48,0.5,0.52,0.54,0.56,0.58,0.6],
"labelExpr":"indexof([0,0.1,0.2,0.3,0.4,0.5,0.6], datum.value) >= 0 ? format(datum.value, '~g') : ''",
"tickSize":{"condition":{"test":"indexof([0,0.1,0.2,0.3,0.4,0.5,0.6], datum.value) >= 0","value":-7},"value":-4},
"labelPadding":19,"title":"z","titlePadding":8}},
"y":{"field":"l","type":"quantitative","scale":{"domain":[0,140],"nice":false},
"axis":{"values":[0,4,8,12,16,20,24,28,32,36,40,44,48,52,56,60,64,68,72,76,80,84,88,92,96,100,104,108,112,116,120,124,128,132,136,140],
"labelExpr":"indexof([0,20,40,60,80,100,120,140], datum.value) >= 0 ? format(datum.value, '~g') : ''",
"tickSize":{"condition":{"test":"indexof([0,20,40,60,80,100,120,140], datum.value) >= 0","value":-7},"value":-4},
"labelPadding":11,"title":null}},
"color":{"field":"g","type":"nominal","scale":{"domain":["a","n"],"range":["#000000","#ff0000"]},"legend":null}}},
{"data":{"name":"p1leg"},"mark":{"type":"circle","size":90,"opacity":0.3},
"encoding":{"x":{"field":"z","type":"quantitative","scale":{"domain":[-0.004,0.61],"nice":false,"zero":false},"axis":null},
"y":{"field":"l","type":"quantitative","scale":{"domain":[0,140],"nice":false},"axis":null},
"color":{"field":"g","type":"nominal","scale":{"domain":["a","n"],"range":["#000000","#ff0000"]},"legend":null}}},
{"data":{"name":"p1legt"},"mark":{"type":"text","align":"right","baseline":"middle","fontSize":18},
"encoding":{"x":{"field":"z","type":"quantitative","scale":{"domain":[-0.004,0.61],"nice":false,"zero":false},"axis":null},
"y":{"field":"l","type":"quantitative","scale":{"domain":[0,140],"nice":false},"axis":null},"text":{"field":"t"}}},
{"data":{"values":[{"z":-0.134,"l":66.5,"t":"λ"}]},"mark":{"type":"text","align":"center","baseline":"middle","fontSize":21,"angle":270},
"encoding":{"x":{"field":"z","type":"quantitative","scale":{"domain":[-0.004,0.61],"nice":false,"zero":false},"axis":null},
"y":{"field":"l","type":"quantitative","scale":{"domain":[0,140],"nice":false},"axis":null},"text":{"field":"t"}}},
{"data":{"values":[{"z":-0.124,"l":74.2,"t":"RM"}]},"mark":{"type":"text","align":"center","baseline":"middle","fontSize":13,"angle":270},
"encoding":{"x":{"field":"z","type":"quantitative","scale":{"domain":[-0.004,0.61],"nice":false,"zero":false},"axis":null},
"y":{"field":"l","type":"quantitative","scale":{"domain":[0,140],"nice":false},"axis":null},"text":{"field":"t"}}},
{"data":{"values":[{"k":1}]},"mark":{"type":"point","opacity":0},
"encoding":{"x":{"datum":0.3,"type":"quantitative","scale":{"domain":[-0.004,0.61],"nice":false,"zero":false},
"axis":{"orient":"top","labels":false,"title":null,"values":[0,0.02,0.04,0.06,0.08,0.1,0.12,0.14,0.16,0.18,0.2,0.22,0.24,0.26,0.28,0.3,0.32,0.34,0.36,0.38,0.4,0.42,0.44,0.46,0.48,0.5,0.52,0.54,0.56,0.58,0.6],
"tickSize":{"condition":{"test":"indexof([0,0.1,0.2,0.3,0.4,0.5,0.6], datum.value) >= 0","value":-7},"value":-4}}},
"y":{"datum":70,"type":"quantitative","scale":{"domain":[0,140],"nice":false},
"axis":{"orient":"right","labels":false,"title":null,"values":[0,4,8,12,16,20,24,28,32,36,40,44,48,52,56,60,64,68,72,76,80,84,88,92,96,100,104,108,112,116,120,124,128,132,136,140],
"tickSize":{"condition":{"test":"indexof([0,20,40,60,80,100,120,140], datum.value) >= 0","value":-7},"value":-4}}}}}
]},
{"bounds":"flush","spacing":83,
"resolve":{"scale":{"color":"independent","shape":"independent"}},
"hconcat":[
{"width":310,"height":308,
"resolve":{"axis":{"x":"independent","y":"independent"}},
"layer":[
{"data":{"name":"fits"},"mark":{"type":"line","strokeDash":[4,4],"strokeWidth":1.6,"color":"black"},
"encoding":{"x":{"field":"R","type":"quantitative","scale":{"domain":[0,3],"nice":false},
"axis":{"values":[0,0.1,0.2,0.3,0.4,0.5,0.6,0.7,0.8,0.9,1,1.1,1.2,1.3,1.4,1.5,1.6,1.7,1.8,1.9,2,2.1,2.2,2.3,2.4,2.5,2.6,2.7,2.8,2.9,3],
"labelExpr":"indexof([0,0.5,1,1.5,2,2.5,3], datum.value) >= 0 ? format(datum.value, '~g') : ''",
"tickSize":{"condition":{"test":"indexof([0,0.5,1,1.5,2,2.5,3], datum.value) >= 0","value":-7},"value":-4},
"labelPadding":19,"title":"R [arcmin]","titlePadding":5}},
"y":{"field":"v","type":"quantitative","scale":{"domain":[0,0.006],"nice":false},
"axis":{"values":[0,0.0002,0.0004,0.0006,0.0008,0.001,0.0012,0.0014,0.0016,0.0018,0.002,0.0022,0.0024,0.0026,0.0028,0.003,0.0032,0.0034,0.0036,0.0038,0.004,0.0042,0.0044,0.0046,0.0048,0.005,0.0052,0.0054,0.0056,0.0058,0.006],
"labelExpr":"indexof([0,0.001,0.002,0.003,0.004,0.005,0.006], datum.value) >= 0 ? format(datum.value, '~g') : ''",
"tickSize":{"condition":{"test":"indexof([0,0.001,0.002,0.003,0.004,0.005,0.006], datum.value) >= 0","value":-7},"value":-4},
"labelPadding":11,"title":"counts","titlePadding":34}},
"detail":{"field":"c"},"order":{"field":"i"}}},
{"data":{"name":"hist"},"mark":{"type":"line","interpolate":"step-after","strokeWidth":2},
"encoding":{"x":{"field":"R","type":"quantitative","scale":{"domain":[0,3],"nice":false},"axis":null},
"y":{"field":"v","type":"quantitative","scale":{"domain":[0,0.006],"nice":false},"axis":null},
"color":{"field":"s","type":"nominal","scale":{"domain":["g","b","r"],"range":["#1e7d1e","#0a0a9e","#9e0a0a"]},"legend":null},
"order":{"field":"i"}}},
{"data":{"name":"p2leg"},"mark":{"type":"rule","strokeWidth":2},
"encoding":{"x":{"field":"x1","type":"quantitative","scale":{"domain":[0,3],"nice":false},"axis":null},"x2":{"field":"x2"},
"y":{"field":"v","type":"quantitative","scale":{"domain":[0,0.006],"nice":false},"axis":null},
"color":{"field":"s","type":"nominal","scale":{"domain":["g","b","r"],"range":["#1e7d1e","#0a0a9e","#9e0a0a"]},"legend":null}}},
{"data":{"name":"p2leg"},"mark":{"type":"text","align":"right","baseline":"middle","fontSize":18},
"encoding":{"x":{"datum":2.22,"type":"quantitative","scale":{"domain":[0,3],"nice":false},"axis":null},
"y":{"field":"v","type":"quantitative","scale":{"domain":[0,0.006],"nice":false},"axis":null},"text":{"field":"t"}}},
{"data":{"values":[{"k":1}]},"mark":{"type":"point","opacity":0},
"encoding":{"x":{"datum":1.5,"type":"quantitative","scale":{"domain":[0,3],"nice":false},
"axis":{"orient":"top","labels":false,"title":null,"values":[0,0.1,0.2,0.3,0.4,0.5,0.6,0.7,0.8,0.9,1,1.1,1.2,1.3,1.4,1.5,1.6,1.7,1.8,1.9,2,2.1,2.2,2.3,2.4,2.5,2.6,2.7,2.8,2.9,3],
"tickSize":{"condition":{"test":"indexof([0,0.5,1,1.5,2,2.5,3], datum.value) >= 0","value":-7},"value":-4}}},
"y":{"datum":0.003,"type":"quantitative","scale":{"domain":[0,0.006],"nice":false},
"axis":{"orient":"right","labels":false,"title":null,"values":[0,0.0002,0.0004,0.0006,0.0008,0.001,0.0012,0.0014,0.0016,0.0018,0.002,0.0022,0.0024,0.0026,0.0028,0.003,0.0032,0.0034,0.0036,0.0038,0.004,0.0042,0.0044,0.0046,0.0048,0.005,0.0052,0.0054,0.0056,0.0058,0.006],
"tickSize":{"condition":{"test":"indexof([0,0.001,0.002,0.003,0.004,0.005,0.006], datum.value) >= 0","value":-7},"value":-4}}}}}
]},
{"width":313,"height":312,
"resolve":{"axis":{"x":"independent","y":"independent"}},
"layer":[
{"data":{"name":"diag"},"mark":{"type":"line","strokeDash":[4,4],"strokeWidth":1.5,"color":"black"},
"encoding":{"x":{"field":"x","type":"quantitative","scale":{"type":"log","domain":[10,300],"nice":false},
"axis":{"values":[10,20,30,40,50,60,70,80,90,100,200,300],
"labelExpr":"indexof([10,100], datum.value) >= 0 ? format(datum.value, '~g') : ''",
"tickSize":{"condition":{"test":"indexof([10,100], datum.value) >= 0","value":-7},"value":-4},
"labelPadding":19,"labelFontSize":16,"title":null}},
"y":{"field":"y","type":"quantitative","scale":{"type":"log","domain":[7,300],"nice":false},
"axis":{"values":[8,9,10,20,30,40,50,60,70,80,90,100,200],
"labelExpr":"indexof([10,100], datum.value) >= 0 ? format(datum.value, '~g') : ''",
"tickSize":{"condition":{"test":"indexof([10,100], datum.value) >= 0","value":-7},"value":-4},
"labelPadding":11,"labelFontSize":16,"title":null}}}},
{"data":{"name":"p3"},"mark":{"type":"point","filled":false,"strokeWidth":1.5,"size":50,"opacity":1},
"encoding":{"x":{"field":"x","type":"quantitative","scale":{"type":"log","domain":[10,300],"nice":false},"axis":null},
"y":{"field":"y","type":"quantitative","scale":{"type":"log","domain":[7,300],"nice":false},"axis":null},
"color":{"field":"g","type":"nominal","scale":{"domain":["g","b","r"],"range":["#2a9a2a","#0a0aa6","#990000"]},"legend":null},
"shape":{"field":"g","type":"nominal","scale":{"domain":["g","b","r"],"range":["square","circle","circle"]},"legend":null}}},
{"data":{"name":"p3leg"},"mark":{"type":"point","filled":false,"strokeWidth":1.5,"size":50,"opacity":1},
"encoding":{"x":{"field":"x","type":"quantitative","scale":{"type":"log","domain":[10,300],"nice":false},"axis":null},
"y":{"field":"y","type":"quantitative","scale":{"type":"log","domain":[7,300],"nice":false},"axis":null},
"color":{"field":"g","type":"nominal","scale":{"domain":["g","b","r"],"range":["#2a9a2a","#0a0aa6","#990000"]},"legend":null},
"shape":{"field":"g","type":"nominal","scale":{"domain":["g","b","r"],"range":["square","circle","circle"]},"legend":null}}},
{"data":{"name":"p3leg"},"mark":{"type":"text","align":"right","baseline":"middle","fontSize":16},
"encoding":{"x":{"field":"tx","type":"quantitative","scale":{"type":"log","domain":[10,300],"nice":false},"axis":null},
"y":{"field":"y","type":"quantitative","scale":{"type":"log","domain":[7,300],"nice":false},"axis":null},"text":{"field":"t"}}},
{"data":{"values":[{"x":50,"y":4.0,"t":"λ"}]},"mark":{"type":"text","align":"center","baseline":"middle","fontSize":18},
"encoding":{"x":{"field":"x","type":"quantitative","scale":{"type":"log","domain":[10,300],"nice":false},"axis":null},
"y":{"field":"y","type":"quantitative","scale":{"type":"log","domain":[7,300],"nice":false},"axis":null},"text":{"field":"t"}}},
{"data":{"values":[{"x":58,"y":3.81,"t":"RM"}]},"mark":{"type":"text","align":"center","baseline":"middle","fontSize":12},
"encoding":{"x":{"field":"x","type":"quantitative","scale":{"type":"log","domain":[10,300],"nice":false},"axis":null},
"y":{"field":"y","type":"quantitative","scale":{"type":"log","domain":[7,300],"nice":false},"axis":null},"text":{"field":"t"}}},
{"data":{"values":[{"x":5.05,"y":44.2,"t":"λ"}]},"mark":{"type":"text","align":"center","baseline":"middle","fontSize":18,"angle":270},
"encoding":{"x":{"field":"x","type":"quantitative","scale":{"type":"log","domain":[10,300],"nice":false},"axis":null},
"y":{"field":"y","type":"quantitative","scale":{"type":"log","domain":[7,300],"nice":false},"axis":null},"text":{"field":"t"}}},
{"data":{"values":[{"x":5.56,"y":50.4,"t":"*"}]},"mark":{"type":"text","align":"center","baseline":"middle","fontSize":12,"angle":270},
"encoding":{"x":{"field":"x","type":"quantitative","scale":{"type":"log","domain":[10,300],"nice":false},"axis":null},
"y":{"field":"y","type":"quantitative","scale":{"type":"log","domain":[7,300],"nice":false},"axis":null},"text":{"field":"t"}}},
{"data":{"values":[{"k":1}]},"mark":{"type":"point","opacity":0},
"encoding":{"x":{"datum":50,"type":"quantitative","scale":{"type":"log","domain":[10,300],"nice":false},
"axis":{"orient":"top","labels":false,"title":null,"values":[10,20,30,40,50,60,70,80,90,100,200],
"tickSize":{"condition":{"test":"indexof([10,100], datum.value) >= 0","value":-7},"value":-4}}},
"y":{"datum":50,"type":"quantitative","scale":{"type":"log","domain":[7,300],"nice":false},
"axis":{"orient":"right","labels":false,"title":null,"values":[8,9,10,20,30,40,50,60,70,80,90,100,200],
"tickSize":{"condition":{"test":"indexof([10,100], datum.value) >= 0","value":-7},"value":-4}}}}}
]}
]}
]
}
